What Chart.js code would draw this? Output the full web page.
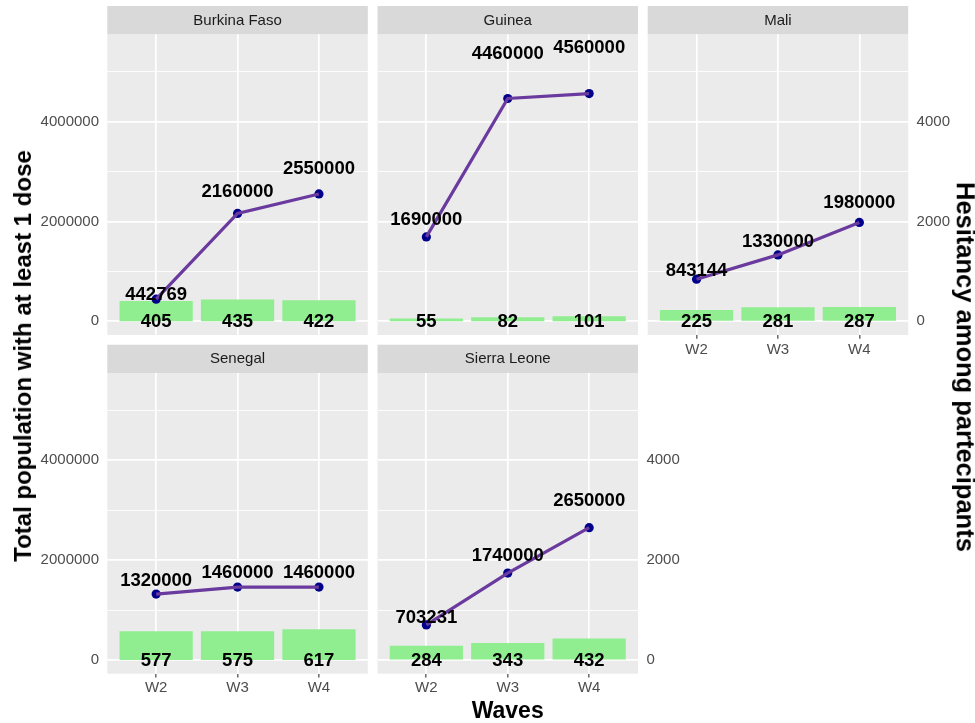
<!DOCTYPE html>
<html>
<head>
<meta charset="utf-8">
<script src="https://cdn.jsdelivr.net/npm/chart.js@4.4.1/dist/chart.umd.min.js"></script>
<style>
html,body{margin:0;padding:0;background:#ffffff;}
#wrap{position:relative;width:975px;height:723px;overflow:hidden;background:#ffffff;font-family:"Liberation Sans",Arial,sans-serif;}
#wrap canvas{position:absolute;left:0;top:0;}
.ttl{position:absolute;font-weight:bold;color:#000;white-space:nowrap;line-height:1;font-family:"Liberation Sans",Arial,sans-serif;}
</style>
</head>
<body>
<div id="wrap">
  <canvas id="c0" width="975" height="723"></canvas>
  <canvas id="c1" width="975" height="723"></canvas>
  <canvas id="c2" width="975" height="723"></canvas>
  <canvas id="c3" width="975" height="723"></canvas>
  <canvas id="c4" width="975" height="723"></canvas>
  <div class="ttl" id="tLeft">Total population with at least 1 dose</div>
  <div class="ttl" id="tRight">Hesitancy among partecipants</div>
  <div class="ttl" id="tBottom">Waves</div>
</div>
<script>
// ---------------- data ----------------
const countries = ['Burkina Faso', 'Guinea', 'Mali', 'Senegal', 'Sierra Leone'];
const waves = ['W2', 'W3', 'W4'];

const popBurkinaFaso = [442769, 2160000, 2550000];
const popGuinea      = [1690000, 4460000, 4560000];
const popMali        = [843144, 1330000, 1980000];
const popSenegal     = [1320000, 1460000, 1460000];
const popSierraLeone = [703231, 1740000, 2650000];

const hesBurkinaFaso = [405, 435, 422];
const hesGuinea      = [55, 82, 101];
const hesMali        = [225, 281, 287];
const hesSenegal     = [577, 575, 617];
const hesSierraLeone = [284, 343, 432];

const popTickLabels = [0, 2000000, 4000000];
const hesTickLabels = [0, 2000, 4000];

const titleLeft = 'Total population with at least 1 dose';
const titleRight = 'Hesitancy among partecipants';
const titleBottom = 'Waves';

// ---------------- derived ----------------
const popSeries = [popBurkinaFaso, popGuinea, popMali, popSenegal, popSierraLeone];
const hesSeries = [hesBurkinaFaso, hesGuinea, hesMali, hesSenegal, hesSierraLeone];
const SEC_FACTOR = 1000;   // secondary axis: hesitancy = population scale / 1000
const LABEL_LIFT = 1.2;    // population labels sit at value * 1.2
const allLabelY = popSeries.flat().map(v => v * LABEL_LIFT);
const dataMax = Math.max(...allLabelY, ...popSeries.flat());
const dataMin = 0;
const rng = dataMax - dataMin;
const Y_MIN = dataMin - 0.05 * rng;
const Y_MAX = dataMax + 0.05 * rng;

// minor breaks halfway between majors (ggplot style), extended one step past the ends
const popStep = popTickLabels[1] - popTickLabels[0];
const popMinor = [];
for (let v = popTickLabels[0] - popStep / 2; v <= Y_MAX; v += popStep) {
  if (v >= Y_MIN) popMinor.push(v);
}
const popAllTicks = [...popTickLabels, ...popMinor].sort((a, b) => a - b);

// ---------------- layout ----------------
const W = 975, H = 723;
const colLeft = [107.3, 377.5, 647.7];
const panelW = 260.5;
const rowStripTop = [6, 344.7];
const stripH = 28.3;
const panelH = 300.7;
const facets = [
  {col:0,row:0,left:true, right:false,bottom:false},
  {col:1,row:0,left:false,right:false,bottom:false},
  {col:2,row:0,left:false,right:true, bottom:true},
  {col:0,row:1,left:true, right:false,bottom:true},
  {col:1,row:1,left:false,right:true, bottom:true}
];
const LEFT_AXIS_W = 80, RIGHT_AXIS_W = 50, BOTTOM_AXIS_H = 26;

const FONT = '"Liberation Sans", Arial, sans-serif';

const facetPlugin = {
  id: 'facet',
  beforeDraw(chart, args, opts) {
    const {ctx, chartArea: a} = chart;
    ctx.save();
    ctx.fillStyle = '#EBEBEB';
    ctx.fillRect(a.left, a.top, a.right - a.left, a.bottom - a.top);
    ctx.fillStyle = '#D9D9D9';
    ctx.fillRect(a.left, a.top - stripH, a.right - a.left, stripH);
    ctx.fillStyle = '#1A1A1A';
    ctx.font = '15px ' + FONT;
    ctx.textAlign = 'center';
    ctx.textBaseline = 'middle';
    ctx.fillText(opts.title, (a.left + a.right) / 2, a.top - stripH / 2 + 0.5);
    ctx.restore();
  },
  afterDatasetsDraw(chart, args, opts) {
    const {ctx, chartArea: a} = chart;
    const xs = chart.scales.x, ys = chart.scales.y;
    ctx.save();
    ctx.beginPath();
    ctx.rect(a.left, a.top, a.right - a.left, a.bottom - a.top);
    ctx.clip();
    ctx.fillStyle = '#000000';
    ctx.font = 'bold 18.5px ' + FONT;
    ctx.textAlign = 'center';
    ctx.textBaseline = 'middle';
    opts.pop.forEach((v, i) => {
      ctx.fillText(String(v), xs.getPixelForValue(i + 1), ys.getPixelForValue(v * LABEL_LIFT));
    });
    opts.hes.forEach((v, i) => {
      ctx.fillText(String(v), xs.getPixelForValue(i + 1), ys.getPixelForValue(0) + 0.5);
    });
    ctx.restore();
  }
};

function makeChart(idx) {
  const f = facets[idx];
  const pLeft = colLeft[f.col];
  const pTop = rowStripTop[f.row] + stripH;
  const pRight = pLeft + panelW;
  const pBottom = pTop + panelH;
  const padding = {
    left: pLeft - (f.left ? LEFT_AXIS_W : 0),
    top: pTop,
    right: W - pRight - (f.right ? RIGHT_AXIS_W : 0),
    bottom: H - pBottom - (f.bottom ? BOTTOM_AXIS_H : 0)
  };
  const pop = popSeries[idx], hes = hesSeries[idx];
  const popPts = pop.map((v, i) => ({x: i + 1, y: v}));
  const hesPts = hes.map((v, i) => ({x: i + 1, y: v}));

  return new Chart(document.getElementById('c' + idx), {
    type: 'bar',
    data: {
      datasets: [
        {type: 'line', data: popPts, yAxisID: 'y', xAxisID: 'x', order: 0,
         borderColor: '#6A3A9E', borderWidth: 3.2, pointRadius: 0, tension: 0, fill: false},
        {type: 'scatter', data: popPts, yAxisID: 'y', xAxisID: 'x', order: 1,
         backgroundColor: '#00008B', borderColor: '#00008B', borderWidth: 0, pointRadius: 4.6},
        {type: 'bar', data: hesPts, yAxisID: 'y1', xAxisID: 'x', order: 2,
         backgroundColor: '#90EE90', borderWidth: 0, barPercentage: 0.9, categoryPercentage: 1.0}
      ]
    },
    options: {
      responsive: false,
      animation: false,
      layout: {padding: padding},
      plugins: {
        legend: {display: false},
        tooltip: {enabled: false},
        title: {display: false},
        facet: {title: countries[idx], pop: pop, hes: hes}
      },
      events: [],
      scales: {
        x: {
          type: 'linear', position: 'bottom', min: 0.4, max: 3.6, offset: false,
          border: {display: false},
          grid: {offset: false, color: '#FFFFFF', lineWidth: 1.7, drawTicks: f.bottom, tickLength: 3.7,
                 tickColor: '#333333', tickWidth: 1.1},
          afterBuildTicks: s => { s.ticks = waves.map((w, i) => ({value: i + 1})); },
          ticks: {display: f.bottom, autoSkip: false, maxRotation: 0, minRotation: 0,
                  padding: 1.8, color: '#4D4D4D', font: {family: FONT, size: 15},
                  callback: v => waves[Math.round(v) - 1] ?? ''},
          afterFit: s => { s.height = f.bottom ? BOTTOM_AXIS_H : 0; }
        },
        y: {
          type: 'linear', position: 'left', min: Y_MIN, max: Y_MAX,
          border: {display: false},
          grid: {color: '#FFFFFF', drawTicks: false,
                 lineWidth: c => popTickLabels.includes(c.tick.value) ? 1.7 : 0.85},
          afterBuildTicks: s => { s.ticks = popAllTicks.map(v => ({value: v})); },
          ticks: {display: f.left, autoSkip: false,
                  padding: 8.3, color: '#4D4D4D', font: {family: FONT, size: 15},
                  callback: v => popTickLabels.includes(v) ? String(v) : ''},
          afterFit: s => { s.width = f.left ? LEFT_AXIS_W : 0; }
        },
        y1: {
          type: 'linear', position: 'right', display: f.right,
          min: Y_MIN / SEC_FACTOR, max: Y_MAX / SEC_FACTOR,
          border: {display: false},
          grid: {drawOnChartArea: false, drawTicks: false},
          afterBuildTicks: s => { s.ticks = hesTickLabels.map(v => ({value: v})); },
          ticks: {autoSkip: false,
                  padding: 8.4, color: '#4D4D4D', font: {family: FONT, size: 15},
                  callback: v => String(v)},
          afterFit: s => { s.width = f.right ? RIGHT_AXIS_W : 0; }
        }
      }
    },
    plugins: [facetPlugin]
  });
}

for (let i = 0; i < countries.length; i++) makeChart(i);

// axis titles (HTML text)
function placeTitle(id, text, cx, cy, size, rot) {
  const el = document.getElementById(id);
  el.textContent = text;
  el.style.fontSize = size + 'px';
  el.style.left = cx + 'px';
  el.style.top = cy + 'px';
  el.style.transform = 'translate(-50%,-50%)' + (rot ? ' rotate(' + rot + 'deg)' : '');
}
placeTitle('tLeft', titleLeft, 23, 356, 24, -90);
placeTitle('tRight', titleRight, 965, 367, 25.5, 90);
placeTitle('tBottom', titleBottom, 507.7, 710, 23, 0);
</script>
</body>
</html>
